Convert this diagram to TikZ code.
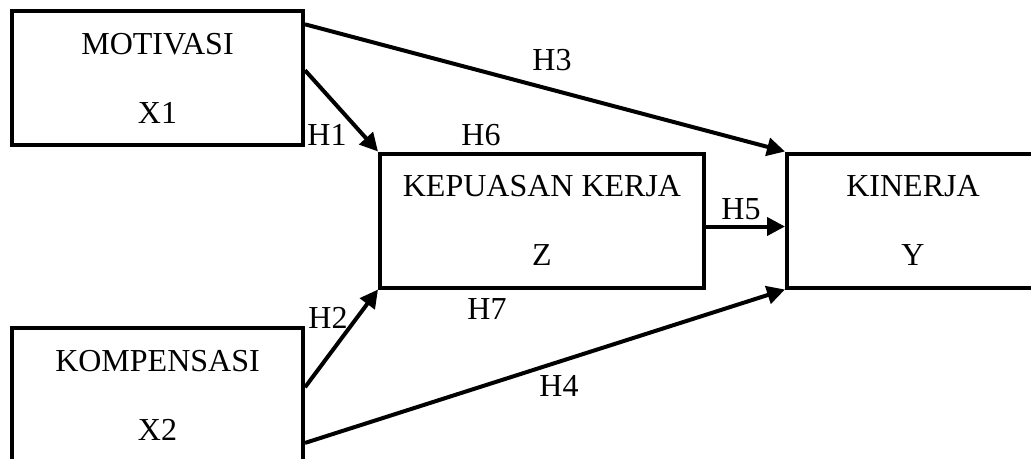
\documentclass[tikz,border=0pt]{standalone}
\usepackage{fontspec}
\setmainfont{Liberation Serif}
\usetikzlibrary{arrows.meta,positioning}

\tikzset{
  varbox/.style={draw, black, line width=4pt, minimum height=134pt,
    inner sep=0pt, align=center, font=\fontsize{32}{69}\selectfont},
  hyp/.style={anchor=base, inner sep=0pt, font=\fontsize{32}{38}\selectfont},
  link/.style={black, line width=4pt, -{Triangle[length=18pt,width=18pt]}}
}

\begin{document}
\begin{tikzpicture}[x=1pt,y=-1pt]
  \clip (0,0) rectangle (1031,458);
  % variables
  \node [varbox, minimum width=291pt] (x1) at (157.5,78) {MOTIVASI\\X1};
  \node [varbox, minimum width=291pt] (x2) at (157.5,395) {KOMPENSASI\\X2};
  \node [varbox, minimum width=324pt] (z) at (542,220.5) {KEPUASAN KERJA\\Z};
  \node [varbox, minimum width=252pt] (y) at (913,220.5) {KINERJA\\Y};
  % paths
  \draw [link] (x1.3.5) -- (z.north west);
  \draw [link] (x2.3.4) -- (z.south west);
  \draw [link] (x1.20.7) -- (y.north west);
  \draw [link] (x2.-18.5) -- (y.south west);
  \draw [link] ([yshift=-6pt]z.east) -- ([yshift=-6pt]y.west);
  % hypotheses
  \node [hyp] (h1) at (327,145) {H1};
  \node [hyp] (h2) at (328,328) {H2};
  \node [hyp] (h3) at (552,70) {H3};
  \node [hyp] (h4) at (559,396) {H4};
  \node [hyp] (h5) at (741,219) {H5};
  \node [hyp] (h6) at (481,145) {H6};
  \node [hyp] (h7) at (487,319) {H7};
\end{tikzpicture}
\end{document}
